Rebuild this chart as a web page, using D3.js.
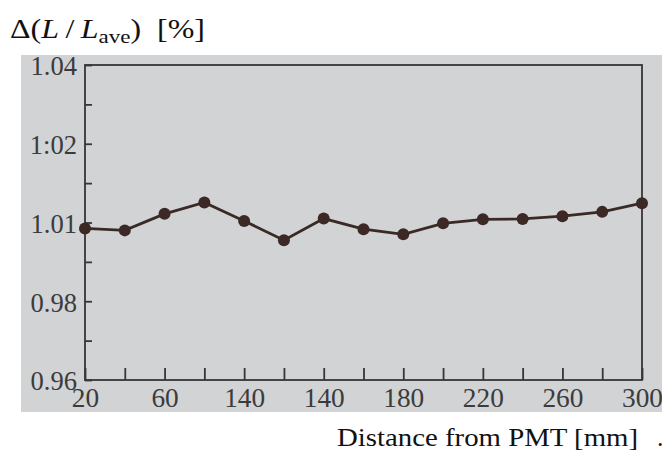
<!DOCTYPE html>
<html>
<head>
<meta charset="utf-8">
<script src="https://cdn.jsdelivr.net/npm/d3@7"></script>
<style>
  html, body { margin: 0; padding: 0; background: #ffffff; }
  svg { display: block; }
</style>
</head>
<body>
<svg id="chart" width="662" height="453"></svg>
<script>
// ---- data ----
const distances = [20, 40, 60, 80, 100, 120, 140, 160, 180, 200, 220, 240, 260, 280, 300];
const ratioValues = [0.9985, 0.9980, 1.0022, 1.0051, 1.0004, 0.9955, 1.0010, 0.9983, 0.9970, 0.9998, 1.0008, 1.0009, 1.0016, 1.0027, 1.0049];
const xTickValues = [20, 40, 60, 80, 100, 120, 140, 160, 180, 200, 220, 240, 260, 280, 300];
const xLabelValues = [20, 60, 100, 140, 180, 220, 260, 300];
const xLabelTexts = ["20", "60", "140", "140", "180", "220", "260", "300"];
const yTickValues = [0.96, 0.97, 0.98, 0.99, 1.00, 1.01, 1.02, 1.03, 1.04];
const yLabelValues = [1.04, 1.02, 1.00, 0.98, 0.96];
const yLabelTexts = ["1.04", "1:02", "1.01", "0.98", "0.96"];
const xAxisTitle = "Distance from PMT [mm]";

// ---- font detection ----
function fontAvailable(name) {
  const c = document.createElement("canvas").getContext("2d");
  const s = "abcdefghijklmnopqrstuvwxyzABCDEFGHIJ0123456789[]%";
  let differs = false;
  for (const base of ["monospace", "sans-serif"]) {
    c.font = `40px ${base}`;
    const w0 = c.measureText(s).width;
    c.font = `40px "${name}", ${base}`;
    const w1 = c.measureText(s).width;
    if (Math.abs(w1 - w0) > 0.5) differs = true;
  }
  return differs;
}
const candidates = ["Liberation Serif", "Tinos", "Times New Roman", "Nimbus Roman", "Nimbus Roman No9 L", "Noto Serif", "DejaVu Serif"];
const pickedFont = candidates.find(fontAvailable) || "serif";
const timesLike = ["Liberation Serif", "Tinos", "Times New Roman", "Nimbus Roman", "Nimbus Roman No9 L"].includes(pickedFont);
const capRatio = timesLike ? 0.662 : 0.729;
const serif = `"${pickedFont}", serif`;

// ---- layout ----
const svg = d3.select("#chart");
const plotLeft = 85, plotRight = 642, plotTop = 65, plotBottom = 380;

const x = d3.scaleLinear().domain([20, 300]).range([plotLeft, plotRight]);
const y = d3.scaleLinear().domain([0.96, 1.04]).range([plotBottom, plotTop]);

// photo background
svg.append("rect").attr("x", 21).attr("y", 55).attr("width", 641).attr("height", 357)
  .attr("fill", "#d1d3d4");

const axisColor = "#363636";
const textColor = "#3b3b3b";

// frame
svg.append("rect")
  .attr("x", x(20)).attr("y", y(1.04))
  .attr("width", x(300) - x(20)).attr("height", y(0.96) - y(1.04))
  .attr("fill", "none").attr("stroke", axisColor).attr("stroke-width", 1.8);

// bottom ticks (inward)
const xAxisTicks = svg.append("g").attr("transform", `translate(0,${plotBottom})`)
  .call(d3.axisBottom(x).tickValues(xTickValues).tickSize(-12).tickFormat(""));
xAxisTicks.select(".domain").remove();
xAxisTicks.selectAll(".tick line").attr("stroke", axisColor).attr("stroke-width", 1.8);

// helper: size a text element by cap height and stretch horizontally to a target width
function fitText(sel, capPx, targetWidth) {
  sel.attr("font-family", serif).attr("font-size", capPx / capRatio);
  const w = sel.node().getComputedTextLength();
  return targetWidth / w;
}

const tickFontSize = 18 / capRatio;

// bottom labels
const xLabels = svg.append("g").attr("transform", `translate(0,${plotBottom})`)
  .call(d3.axisBottom(x).tickValues(xLabelValues).tickSize(0).tickPadding(0)
    .tickFormat((d, i) => xLabelTexts[i]));
xLabels.select(".domain").remove();
{
  const texts = xLabels.selectAll(".tick text")
    .attr("font-family", serif).attr("font-size", tickFontSize).attr("fill", textColor)
    .attr("dy", null).attr("y", 0);
  const ref = texts.filter((d, i) => xLabelTexts[i] === "300");
  const sx = 41 / ref.node().getComputedTextLength();
  texts.attr("transform", `translate(0,27) scale(${sx},1)`);
}

// left ticks (inward)
const yAxisTicks = svg.append("g").attr("transform", `translate(${plotLeft},0)`)
  .call(d3.axisLeft(y).tickValues(yTickValues).tickSize(-7).tickFormat(""));
yAxisTicks.select(".domain").remove();
yAxisTicks.selectAll(".tick line").attr("stroke", axisColor).attr("stroke-width", 1.8);

// left labels
const yLabels = svg.append("g").attr("transform", `translate(${plotLeft},0)`)
  .call(d3.axisLeft(y).tickValues(yLabelValues).tickSize(0).tickPadding(0)
    .tickFormat((d, i) => yLabelTexts[i]));
yLabels.select(".domain").remove();
{
  const texts = yLabels.selectAll(".tick text")
    .attr("font-family", serif).attr("font-size", tickFontSize).attr("fill", textColor)
    .attr("x", 0).attr("dy", "0.36em");
  const ref = texts.filter((d, i) => yLabelTexts[i] === "0.96");
  const sx = 46.5 / ref.node().getComputedTextLength();
  texts.attr("transform", `translate(-8,0) scale(${sx},1)`);
}

// line
const line = d3.line().x((d, i) => x(distances[i])).y(d => y(d));
svg.append("path").datum(ratioValues)
  .attr("d", line).attr("fill", "none")
  .attr("stroke", "#3a2a27").attr("stroke-width", 2.8);

// markers
svg.append("g").selectAll("circle").data(ratioValues).join("circle")
  .attr("cx", (d, i) => x(distances[i])).attr("cy", d => y(d))
  .attr("r", 6).attr("fill", "#3c2824");

// title (y axis label)
const title = svg.append("text").attr("fill", "#111");
title.append("tspan").text("Δ(");
title.append("tspan").attr("font-style", "italic").text("L");
title.append("tspan").text("\u2009/\u2009");
title.append("tspan").attr("font-style", "italic").text("L");
const subSize = 0.72;
title.append("tspan").attr("class", "sub").attr("dy", 5).text("ave");
title.append("tspan").attr("dy", -5).text(")\u00a0\u00a0[%]");
{
  const fs = 17.5 / capRatio;
  title.attr("font-family", serif).attr("font-size", fs);
  title.select(".sub").attr("font-size", fs * subSize);
  const sx = 195 / title.node().getComputedTextLength();
  title.attr("transform", `translate(10,38) scale(${sx},1)`);
}

// x axis title
const xt = svg.append("text").attr("fill", "#111").text(xAxisTitle);
{
  const sx = fitText(xt, 17, 301);
  xt.attr("transform", `translate(337,446) scale(${sx},1)`);
}
svg.append("text").attr("x", 657).attr("y", 446)
  .attr("font-family", serif).attr("font-size", 17 / capRatio).attr("fill", "#111").text(".");
</script>
</body>
</html>
